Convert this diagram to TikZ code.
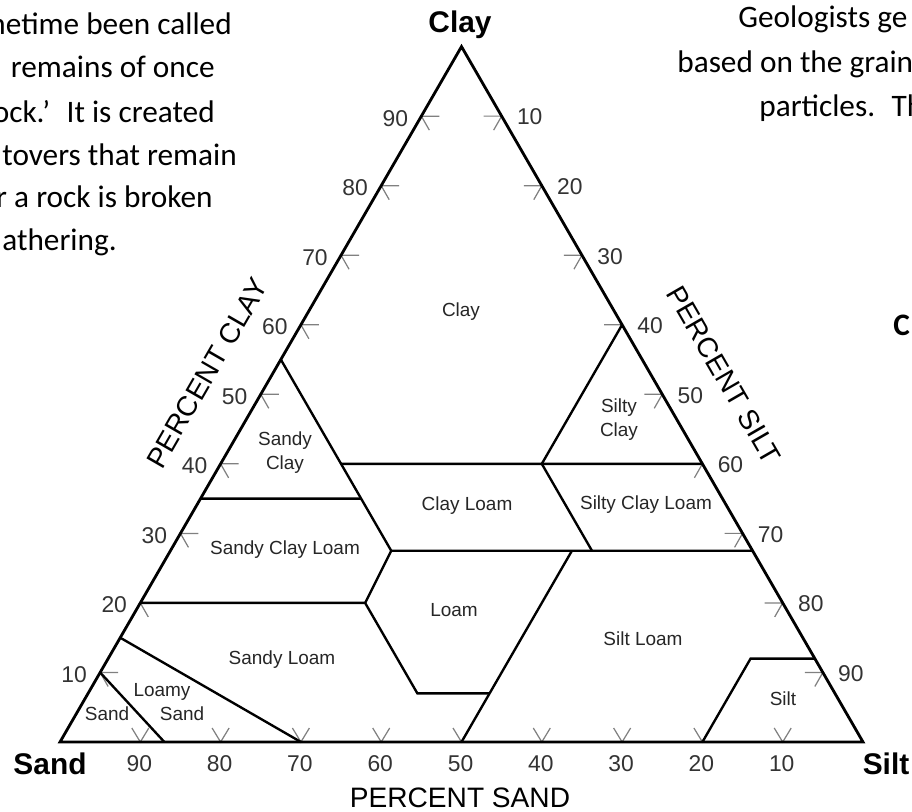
\documentclass[tikz,border=0pt]{standalone}
\usepackage{fontspec}
\setmainfont{Liberation Sans}
\newfontfamily\bodyfont{Carlito}
\usetikzlibrary{calc}

\begin{document}
\begin{tikzpicture}[x=0.02cm, y=-0.02cm,
    edge/.style={line width=1.6pt},
    border/.style={line width=1.35pt},
    tick/.style={black!50, line width=0.7pt},
    num/.style={inner sep=0pt, text=black!80, font=\fontsize{13}{13}\selectfont},
    region/.style={inner sep=0pt, text=black!85, align=center, font=\fontsize{10.8}{13.6}\selectfont},
    corner/.style={inner sep=0pt, font=\fontsize{17}{17}\selectfont\bfseries},
    axis/.style={inner sep=0pt, font=\fontsize{16}{16}\selectfont},
    para/.style={inner sep=0pt, font=\bodyfont\fontsize{17.8}{20}\selectfont}]

    \useasboundingbox (0,0) rectangle (912,811);

    \coordinate (sandc) at (60,742);
    \coordinate (siltc) at (863,742);
    \coordinate (clayc) at (461.5,46.6);

    % scale marks on the three sides
    \foreach \v in {10,20,...,90} {
      \pgfmathsetmacro\w{\v/100}
      \pgfmathsetmacro\rest{1-\w}
      \coordinate (cl\v) at (barycentric cs:sandc=\rest,clayc=\w,siltc=0);
      \coordinate (sl\v) at (barycentric cs:sandc=0,clayc=\rest,siltc=\w);
      \coordinate (sd\v) at (barycentric cs:sandc=\w,clayc=0,siltc=\rest);
      \draw[tick] ($(cl\v)+(18,0)$) -- (cl\v) -- ++(8,14);
      \draw[tick] ($(sl\v)+(-18,0)$) -- (sl\v) -- ++(-8,14);
      \draw[tick] ($(sd\v)+(-8.5,-14)$) -- (sd\v) -- ++(8.5,-14);
      \node[num, anchor=east] (cn\v) at ($(cl\v)+(-13,2)$) {\v};
      \node[num, anchor=west] (sn\v) at ($(sl\v)+(15,1)$) {\v};
      \node[num] (dn\v) at ($(sd\v)+(-1,22)$) {\v};
    }

    % texture class boundaries
    \coordinate (ls15) at (barycentric cs:sandc=.85,clayc=.15,siltc=0);
    \coordinate (cl35) at (barycentric cs:sandc=.65,clayc=.35,siltc=0);
    \coordinate (cl55) at (barycentric cs:sandc=.45,clayc=.55,siltc=0);
    \coordinate (sl72) at (barycentric cs:sandc=0,clayc=.275,siltc=.725);
    \coordinate (sl88) at (barycentric cs:sandc=0,clayc=.12,siltc=.88);
    \coordinate (slm) at (barycentric cs:sandc=.52,clayc=.20,siltc=.28);
    \coordinate (lm7) at (barycentric cs:sandc=.52,clayc=.07,siltc=.41);
    \coordinate (lm50) at (barycentric cs:sandc=.43,clayc=.07,siltc=.50);
    \coordinate (cla) at (barycentric cs:sandc=.45,clayc=.275,siltc=.275);
    \coordinate (clb) at (barycentric cs:sandc=.45,clayc=.35,siltc=.20);
    \coordinate (clc) at (barycentric cs:sandc=.45,clayc=.40,siltc=.15);
    \coordinate (sca) at (barycentric cs:sandc=.225,clayc=.275,siltc=.50);
    \coordinate (scb) at (barycentric cs:sandc=.20,clayc=.275,siltc=.525);
    \coordinate (scc) at (barycentric cs:sandc=.20,clayc=.40,siltc=.40);
    \coordinate (st) at (barycentric cs:sandc=.08,clayc=.12,siltc=.80);
    \coordinate (sd87) at (barycentric cs:sandc=.87,clayc=0,siltc=.13);

    \draw[border] (sd87) -- (cl10);
    \draw[border] (sd70) -- (ls15);
    \draw[border] (cl20) -- (slm) -- (lm7) -- (lm50);
    \draw[border] (slm) -- (cla) -- (cl55);
    \draw[border] (cl35) -- (clb);
    \draw[border] (cla) -- (sl72);
    \draw[border] (clc) -- (sl60);
    \draw[border] (sd50) -- (sca);
    \draw[border] (scb) -- (scc) -- (sl40);
    \draw[border] (sd20) -- (st) -- (sl88);

    \draw[edge] (sandc) -- (siltc) -- (clayc) -- cycle;

    % class names
    \node[region] (clay) at (461,312) {Clay};
    \node[region] (siltyclay) at (619,420) {Silty\\Clay};
    \node[region] (sandyclay) at (285,453) {Sandy\\Clay};
    \node[region] (clayloam) at (467,506) {Clay Loam};
    \node[region] (siltyclayloam) at (646,505) {Silty Clay Loam};
    \node[region] (sandyclayloam) at (285,550) {Sandy Clay Loam};
    \node[region] (loam) at (454,610) {Loam};
    \node[region] (siltloam) at (643,639) {Silt Loam};
    \node[region] (sandyloam) at (282,660) {Sandy Loam};
    \node[region] (loamy) at (162,692) {Loamy};
    \node[region] (loamysand) at (182,714) {Sand};
    \node[region] (sand) at (107,714) {Sand};
    \node[region] (silt) at (783,699) {Silt};

    % corners and axis titles
    \node[corner] (sandlab) at (50,764) {Sand};
    \node[corner] (siltlab) at (886,764) {Silt};
    \node[corner] (claylab) at (460,25) {Clay};
    \node[axis] (pcsand) at (460,798) {PERCENT SAND};
    \node[axis, rotate=60] (pcclay) at (207,373) {PERCENT CLAY};
    \node[axis, rotate=-60] (pcsilt) at (724,375) {PERCENT SILT};

    % page text around the chart
    \node[para, anchor=base east] (t1) at (232,35) {metime been called};
    \node[para, anchor=base east] (t2) at (215,78) {remains of once};
    \node[para, anchor=base east] (t3) at (215,122) {ock.’~ It is created};
    \node[para, anchor=base east] (t4) at (237,165) {tovers that remain};
    \node[para, anchor=base east] (t5) at (213,207) {r a rock is broken};
    \node[para, anchor=base east] (t6) at (117,250) {athering.};
    \node[para, anchor=base west] (r1) at (738,28) {Geologists ge};
    \node[para, anchor=base west] (r2) at (677,72) {based on the grain};
    \node[para, anchor=base west] (r3) at (759,116) {particles.~ Th};
    \node[para, anchor=base west, font=\bodyfont\bfseries\fontsize{17.8}{20}\selectfont] (r4) at (893,335) {C};
\end{tikzpicture}
\end{document}
